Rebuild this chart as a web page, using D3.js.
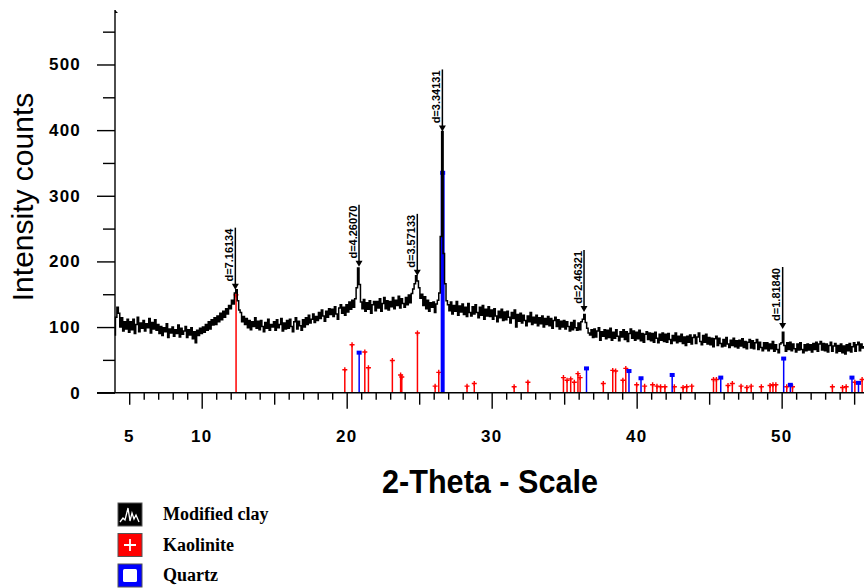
<!DOCTYPE html>
<html>
<head>
<meta charset="utf-8">
<script src="https://cdn.jsdelivr.net/npm/d3@7"></script>
<style>
  body { margin: 0; background: #fff; }
  svg { display: block; }
  .axis path, .axis line { stroke: #000; stroke-width: 1.4; }
  .axis text { font-family: "Liberation Sans", Arial, sans-serif; font-weight: bold; font-size: 17px; letter-spacing: 1.2px; fill: #000; }
</style>
</head>
<body>
<svg width="864" height="588"></svg>
<script>
// measured trace, one value every 0.1 degree from 4.0
const traceStart = 4.0;
const traceStep = 0.1;
const traceCounts = [
  88,115,130,121,100,114,94,108,97,112,
  92,108,96,112,90,104,115,93,106,98,
  110,94,105,99,113,91,107,97,111,95,
  104,90,101,87,99,93,105,84,97,91,
  100,86,96,90,103,85,98,89,94,101,
  84,96,88,99,82,93,76,95,87,98,
  90,100,92,104,95,108,97,111,103,114,
  104,117,108,121,111,124,115,128,120,133,
  128,141,135,152,157,140,126,122,108,116,
  104,113,99,110,96,108,101,114,98,109,
  96,110,101,93,107,98,112,95,104,100,
  108,95,111,99,104,113,94,106,97,110,
  98,112,101,93,108,114,97,109,102,95,
  111,100,114,104,118,106,112,120,107,116,
  110,122,113,126,117,109,124,115,128,119,
  127,116,131,120,112,129,134,121,130,118,
  134,123,138,127,141,130,143,160,190,165,
  138,128,142,124,137,127,140,121,134,139,
  125,139,129,143,124,136,145,128,140,126,
  139,131,145,128,141,133,147,129,143,136,
  130,145,134,149,137,151,158,166,178,170,
  160,144,150,133,146,128,141,124,137,130,
  138,122,135,141,152,238,398,212,166,140,
  134,125,138,120,133,124,139,118,132,123,
  135,119,130,116,136,122,117,131,120,134,
  122,114,130,118,133,112,127,117,131,116,
  126,112,128,117,108,124,114,127,110,123,
  111,124,115,106,122,113,126,100,119,109,
  121,106,118,110,102,117,108,122,104,115,
  106,118,102,114,105,117,100,113,104,116,
  102,113,98,110,115,101,111,97,109,100,
  110,97,108,101,94,107,96,110,99,95,
  106,96,108,112,119,107,98,91,88,96,
  84,97,85,94,99,80,93,86,96,82,
  95,84,98,80,92,83,96,86,79,93,
  85,96,81,93,78,90,97,83,94,80,
  92,82,95,79,90,77,89,93,81,91,
  79,90,77,92,83,76,89,80,91,78,
  89,77,90,81,75,87,79,91,76,86,
  78,89,75,85,72,86,77,88,74,84,
  88,75,85,91,78,73,87,77,89,74,
  84,73,83,70,82,86,72,83,75,70,
  81,71,84,74,69,80,72,83,70,79,
  68,80,71,82,69,78,67,77,81,68,
  79,67,76,81,66,77,69,64,76,67,
  76,64,74,67,78,63,73,66,61,74,
  76,92,72,63,76,66,77,64,74,67,
  62,74,65,76,66,61,73,64,74,65,
  73,62,75,66,77,63,74,78,65,75,
  64,74,62,72,77,63,71,75,61,72,
  63,74,61,71,59,73,64,75,62,70,
  76,63,73,77,64,74,68,70
];

// reference sticks
const kaoliniteTheta = [12.37,19.87,20.37,21.25,21.5,23.15,23.72,23.8,24.88,26.1,26.35,28.3,28.8,31.55,32.5,
  34.95,35.2,35.45,35.7,35.95,36.1,37.7,38.35,38.55,39.05,39.25,40.0,40.55,41.1,41.4,41.65,41.95,42.6,43.2,
  43.45,43.8,45.3,45.5,46.3,46.6,47.2,47.6,47.9,48.6,49.2,49.4,49.6,50.35,50.75,53.5,54.2,54.45,55.05,55.55];
const kaoliniteCounts = [149,35,73,62,38,49,27,24,91,10,31,10,14,9,16,
  23,19,21,16,29,23,14,34,33,19,37,12,10,12,10,9,9,9,8,
  9,10,20,20,11,14,10,8,10,9,11,12,12,9,9,9,8,9,16,20];
const quartzTheta = [20.86,26.62,36.54,39.47,40.3,42.45,45.8,50.14,50.6,54.85,55.3];
const quartzCounts = [61,335,37,33,22,27,23,52,12,23,15];

// labelled peaks
const peakTheta = [12.32,20.85,24.87,26.6,36.37,50.07];
const peakCounts = [157,192,178,398,123,97];
const peakLabels = ['d=7.16134','d=4.26070','d=3.57133','d=3.34131','d=2.46321','d=1.81840'];

const yMajorTicks = [0,100,200,300,400,500];
const yMinorTicks = [50,150,250,350,450,550];
const xLabelTicks = [5,10,20,30,40,50];
const legendNames = ['Modified clay','Kaolinite','Quartz'];

const svg = d3.select('svg');
const x = d3.scaleLinear().domain([4.02, 55.68]).range([115, 864]);
const y = d3.scaleLinear().domain([0, 583]).range([392.7, 10]);
const X0 = 115, Y0 = 392.7;

// sticks
const kaolinite = kaoliniteTheta.map((t, i) => ({t: t, v: kaoliniteCounts[i]}));
const quartz = quartzTheta.map((t, i) => ({t: t, v: quartzCounts[i]}));

svg.append('g').selectAll('line').data(kaolinite).join('line')
  .attr('x1', d => x(d.t)).attr('x2', d => x(d.t))
  .attr('y1', Y0).attr('y2', d => y(d.v))
  .attr('stroke', '#ff0000').attr('stroke-width', 1.5);
svg.append('g').selectAll('path').data(kaolinite).join('path')
  .attr('d', d => {
    const cx = x(d.t), cy = y(d.v);
    return `M${cx-2.5},${cy}H${cx+2.5}M${cx},${cy-2.5}V${cy+2.5}`;
  })
  .attr('stroke', '#ff0000').attr('stroke-width', 1.4);

svg.append('g').selectAll('line').data(quartz).join('line')
  .attr('x1', d => x(d.t)).attr('x2', d => x(d.t))
  .attr('y1', Y0).attr('y2', d => y(d.v))
  .attr('stroke', '#0000ff').attr('stroke-width', d => d.v > 300 ? 4 : 1.5);
svg.append('g').selectAll('rect').data(quartz).join('rect')
  .attr('x', d => x(d.t) - 2.5).attr('y', d => y(d.v) - 2)
  .attr('width', 5).attr('height', 4)
  .attr('fill', '#0000ff');

// trace
const trace = traceCounts.map((v, i) => ({t: traceStart + i * traceStep, v: v}));
const line = d3.line().x(d => x(d.t)).y(d => y(d.v)).curve(d3.curveStep);
svg.append('path').datum(trace)
  .attr('d', line)
  .attr('fill', 'none').attr('stroke', '#000').attr('stroke-width', 1.5);

// peak markers
const peaks = peakTheta.map((t, i) => ({t: t, v: peakCounts[i], label: peakLabels[i]}));
const pk = svg.append('g').selectAll('g').data(peaks).join('g')
  .attr('transform', d => `translate(${x(d.t)},${y(d.v)})`);
pk.append('line').attr('x1', 0).attr('x2', 0).attr('y1', -3).attr('y2', -62)
  .attr('stroke', '#000').attr('stroke-width', 1.5);
pk.append('path').attr('d', 'M-3.5,-6L3.5,-6L0,0Z').attr('fill', '#000');
pk.append('text')
  .attr('transform', 'translate(-2.5,-61) rotate(-90)')
  .attr('text-anchor', 'end')
  .style('font-family', '"Liberation Sans", Arial, sans-serif')
  .style('font-weight', 'bold')
  .style('font-size', '11px')
  .text(d => d.label);

// y axis
const yAxis = svg.append('g').attr('class', 'axis').attr('transform', `translate(${X0},0)`)
  .call(d3.axisLeft(y).tickValues(yMajorTicks).tickSize(18).tickPadding(16).tickFormat(d3.format('d')));
yAxis.select('.domain').remove();
const yMinor = svg.append('g').attr('class', 'axis').attr('transform', `translate(${X0},0)`)
  .call(d3.axisLeft(y).tickValues(yMinorTicks).tickSize(12).tickFormat(''));
yMinor.select('.domain').remove();
svg.append('line').attr('x1', X0).attr('x2', X0).attr('y1', 10).attr('y2', Y0)
  .attr('stroke', '#000').attr('stroke-width', 1.4);
svg.append('path').attr('d', `M${X0},10L${X0+3},13L${X0},13`).attr('fill', '#000');

// x axis
const xMinor = d3.range(5, 56).filter(d => d % 5 !== 0);
const xMid = [5,15,25,35,45,55];
const xMajor = [10,20,30,40,50];
[[xMinor, 7], [xMid, 12], [xMajor, 16]].forEach(([vals, size]) => {
  const g = svg.append('g').attr('class', 'axis').attr('transform', `translate(0,${Y0})`)
    .call(d3.axisBottom(x).tickValues(vals).tickSize(size).tickFormat(''));
  g.select('.domain').remove();
});
svg.append('line').attr('x1', 97).attr('x2', 864).attr('y1', Y0).attr('y2', Y0)
  .attr('stroke', '#000').attr('stroke-width', 1.4);
svg.append('g').attr('class', 'axis').selectAll('text').data(xLabelTicks).join('text')
  .attr('x', d => x(d)).attr('y', 442)
  .attr('text-anchor', 'middle')
  .text(d => d);

// titles
svg.append('text')
  .attr('transform', 'translate(33,197) rotate(-90)')
  .attr('text-anchor', 'middle')
  .style('font-family', '"Liberation Sans", Arial, sans-serif')
  .style('font-size', '30px')
  .text('Intensity counts');
svg.append('text')
  .attr('transform', 'translate(490,493) scale(0.9,1)')
  .attr('text-anchor', 'middle')
  .style('font-family', '"Liberation Sans", Arial, sans-serif')
  .style('font-weight', 'bold')
  .style('font-size', '34px')
  .text('2-Theta - Scale');

// legend
const lg = svg.append('g').selectAll('g').data(legendNames).join('g')
  .attr('transform', (d, i) => `translate(118,${503 + i * 30.5})`);
lg.append('rect').attr('width', 24).attr('height', 23)
  .attr('fill', (d, i) => ['#000', '#ff0000', '#0000ff'][i])
  .attr('stroke', '#555').attr('stroke-width', 1);
lg.filter((d, i) => i === 0).append('path')
  .attr('d', 'M2,19L5,15L7,17L10,5L12,18L14,10L16,16L18,12L21,19')
  .attr('fill', 'none').attr('stroke', '#fff').attr('stroke-width', 1.3);
lg.filter((d, i) => i === 1).append('path')
  .attr('d', 'M6,11.5H18M12,5.5V17.5')
  .attr('stroke', '#fff').attr('stroke-width', 1.8);
lg.filter((d, i) => i === 2).append('rect')
  .attr('x', 5).attr('y', 5).attr('width', 14).attr('height', 13).attr('rx', 1.5)
  .attr('fill', '#fff');
lg.append('text')
  .attr('x', 45).attr('y', 17)
  .style('font-family', '"Liberation Serif", "Times New Roman", serif')
  .style('font-weight', 'bold')
  .style('font-size', '18px')
  .text(d => d);
</script>
</body>
</html>
